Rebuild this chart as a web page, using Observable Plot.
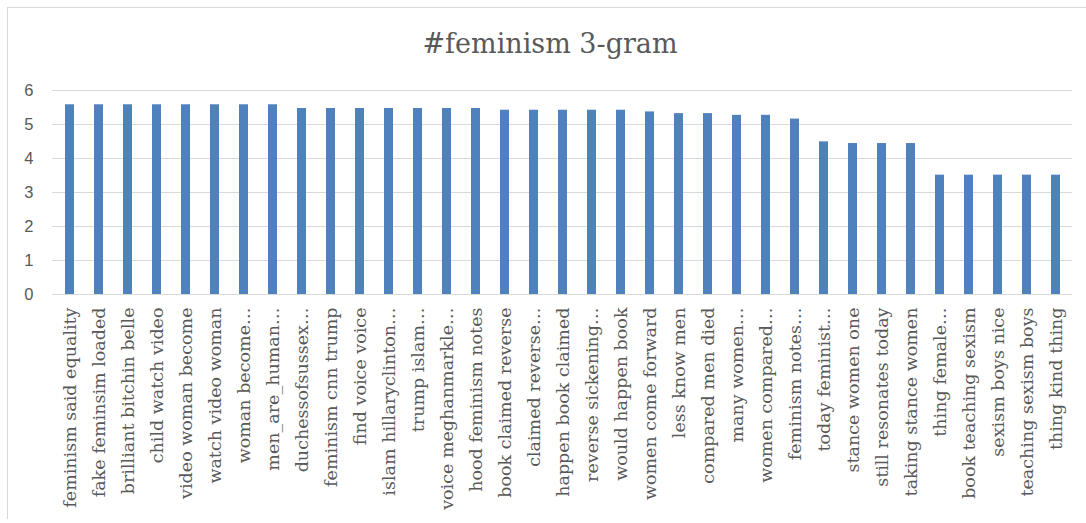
<!DOCTYPE html>
<html>
<head>
<meta charset="utf-8">
<script src="https://cdn.jsdelivr.net/npm/d3@7"></script>
<script src="https://cdn.jsdelivr.net/npm/@observablehq/plot@0.6"></script>
<style>
  html, body { margin: 0; padding: 0; background: #fff; }
  #wrap { position: relative; width: 1086px; height: 523px; overflow: hidden; background: #fff; }
  #frame { position: absolute; left: 7px; top: 7px; width: 1100px; height: 511px;
           border-left: 1px solid #d9d9d9; border-top: 1px solid #d9d9d9; }
  #title { position: relative; height: 70px; box-sizing: border-box; padding-left: 14px; padding-top: 30px;
           text-align: center; font-family: "DejaVu Serif", serif; font-size: 27px; line-height: 1;
           color: #595959; }
  #chart svg { display: block; }
</style>
</head>
<body>
<div id="wrap">
  <div id="frame"></div>
  <div id="title">#feminism 3-gram</div>
  <div id="chart"></div>
</div>
<script>
// 3-gram phrases for #feminism, in chart order
const labels = [
  "feminism said equality", "fake feminsim loaded", "brilliant bitchin belle", "child watch video",
  "video woman become", "watch video woman", "woman become…", "men_are_human…",
  "duchessofsussex…", "feminism cnn trump", "find voice voice", "islam hillaryclinton…",
  "trump islam…", "voice meghanmarkle…", "hood feminism notes", "book claimed reverse",
  "claimed reverse…", "happen book claimed", "reverse sickening…", "would happen book",
  "women come forward", "less know men", "compared men died", "many women…",
  "women compared…", "feminism notes…", "today feminist…", "stance women one",
  "still resonates today", "taking stance women", "thing female…", "book teaching sexism",
  "sexism boys nice", "teaching sexism boys", "thing kind thing"
];

// score for each phrase
const values = [
  5.58, 5.58, 5.58, 5.58, 5.58, 5.58, 5.58, 5.58,
  5.47, 5.47, 5.47, 5.47, 5.47, 5.47, 5.47,
  5.42, 5.42, 5.42, 5.42, 5.42,
  5.37, 5.32, 5.32, 5.27, 5.27, 5.16,
  4.49, 4.44, 4.44, 4.44,
  3.51, 3.51, 3.51, 3.51, 3.51
];

const yTicks = [0, 1, 2, 3, 4, 5, 6];

const data = labels.map((label, i) => ({label, value: values[i]}));

const chart = Plot.plot({
  width: 1086,
  height: 453,
  marginTop: 20,
  marginBottom: 229,
  marginLeft: 52,
  marginRight: 14,
  x: {domain: labels, paddingInner: 0.69, paddingOuter: 0.345, axis: null, label: null},
  y: {domain: [0, 6], axis: null, label: null},
  marks: [
    Plot.gridY(yTicks, {stroke: "#d9d9d9", strokeOpacity: 1, strokeWidth: 1}),
    Plot.barY(data, {x: "label", y: "value", fill: "#4f81bd"}),
    Plot.axisY(yTicks, {tickSize: 0, tickPadding: 19, label: null, ariaLabel: "value-ticks"}),
    Plot.axisX({tickSize: 0, tickRotate: -90, tickPadding: 13, label: null, ariaLabel: "phrase-ticks"})
  ]
});

// phrase labels in a serif face, value ticks in a sans face
for (const t of chart.querySelectorAll("text")) {
  t.style.fill = "#595959";
  t.style.fontFamily = "'DejaVu Serif', serif";
  t.style.fontSize = "17.5px";
}
const yText = chart.querySelectorAll('[aria-label^="value-ticks"] text, [aria-label^="y-axis"] text');
for (const t of yText) {
  t.style.fontFamily = "'Liberation Sans', sans-serif";
  t.style.fontSize = "16.5px";
}

document.getElementById("chart").appendChild(chart);
</script>
</body>
</html>
